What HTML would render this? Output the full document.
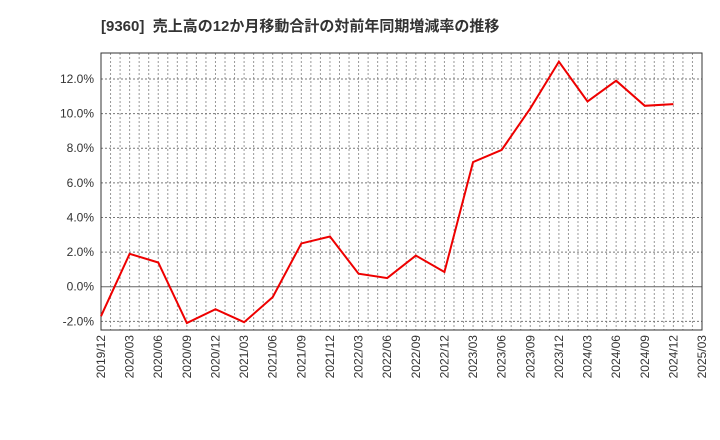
<!DOCTYPE html>
<html><head><meta charset="utf-8"><style>
body{margin:0;background:#fff;}
svg{display:block;font-family:"Liberation Sans","Noto Sans CJK JP",sans-serif;}
</style></head><body>
<svg id="c" width="720" height="440">
<text x="101" y="31" font-size="15" font-weight="bold" fill="#333" style="white-space:pre">[9360]  売上高の12か月移動合計の対前年同期増減率の推移</text>
</svg>
<script>
const categories=["2019/12","2020/03","2020/06","2020/09","2020/12","2021/03","2021/06","2021/09","2021/12","2022/03","2022/06","2022/09","2022/12","2023/03","2023/06","2023/09","2023/12","2024/03","2024/06","2024/09","2024/12","2025/03"];
const values=[-1.7,1.9,1.4,-2.1,-1.3,-2.05,-0.6,2.5,2.9,0.75,0.5,1.8,0.85,7.2,7.9,10.3,13.0,10.7,11.9,10.45,10.55];
const yTicks=[-2,0,2,4,6,8,10,12];
const yTickLabels=["-2.0%","0.0%","2.0%","4.0%","6.0%","8.0%","10.0%","12.0%"];
const L=101,R=702,T=53,B=330;
const yMin=-2.5,yMax=13.5;
const x=i=>L+(R-L)*i/(categories.length-1);
const y=v=>B-(v-yMin)/(yMax-yMin)*(B-T);
const svg=document.getElementById('c');
const NS="http://www.w3.org/2000/svg";
function mk(t,a){const e=document.createElementNS(NS,t);for(const k in a)e.setAttribute(k,a[k]);svg.appendChild(e);return e;}
const bg=mk('rect',{x:L,y:T,width:R-L,height:B-T,fill:'#fff'});


const nMonths=(categories.length-1)*3;
for(let m=1;m<nMonths;m++){
 const gx=L+(R-L)*m/nMonths;
 const g=mk('line',{x1:gx,x2:gx,y1:T,y2:B,stroke:'#999','stroke-width':1,'stroke-dasharray':'2,2'});
 
 
}
yTicks.forEach((v,i)=>{
 const gy=y(v);
 const g=mk('line',{x1:L,x2:R,y1:gy,y2:gy,stroke:v===0?'#666':'#777','stroke-width':1,'stroke-dasharray':v===0?'':'2,2'});
 
 
 const t=mk('text',{x:L-7,y:gy+4,'font-size':12,'text-anchor':'end',fill:'#333'});
 t.textContent=yTickLabels[i];
 
 
});
categories.forEach((c,i)=>{
 const t=mk('text',{transform:`translate(${x(i)+4},${B+5}) rotate(-90)`,'font-size':12,'text-anchor':'end',fill:'#333'});
 t.textContent=c;
 
 
});
const fr=mk('rect',{x:L,y:T,width:R-L,height:B-T,fill:'none',stroke:'#333','stroke-width':1});


const p=mk('polyline',{points:values.map((v,i)=>x(i)+','+y(v)).join(' '),fill:'none',stroke:'#ee0000','stroke-width':2});


</script>
</body></html>
